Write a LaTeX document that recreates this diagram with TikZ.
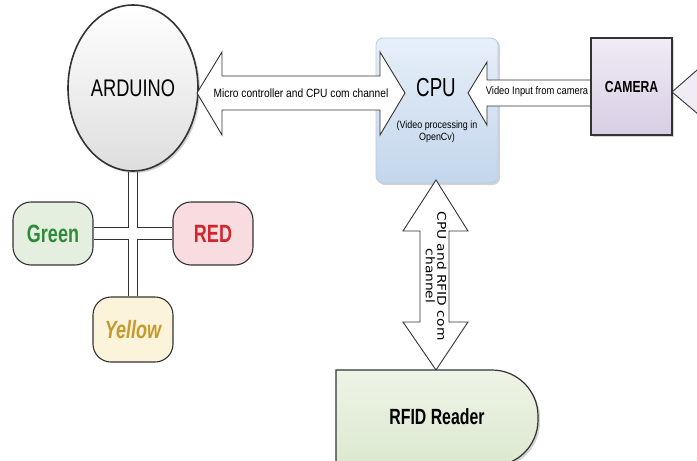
\documentclass[tikz,border=0pt]{standalone}
\usepackage{fontspec}
\setmainfont{Liberation Sans}
\newfontfamily\nA{Liberation Sans}[FakeStretch=0.85]
\newfontfamily\nB{Liberation Sans}[FakeStretch=0.72]
\newfontfamily\nC{Liberation Sans}[FakeStretch=0.76]
\newfontfamily\dv{DejaVu Sans}[FakeStretch=1.15]
\usetikzlibrary{shapes.geometric,shadows}
\definecolor{cputop}{HTML}{E7EFF9}
\definecolor{cpubot}{HTML}{C3D6EB}
\definecolor{cpuline}{HTML}{B8CDE4}
\definecolor{camtop}{HTML}{F0EBF5}
\definecolor{cambot}{HTML}{D8CEE4}
\definecolor{grnfill}{HTML}{E4EFDF}
\definecolor{grntext}{HTML}{2F8A3A}
\definecolor{redfill}{HTML}{F8DCE0}
\definecolor{redtext}{HTML}{D0262E}
\definecolor{yelfill}{HTML}{FCF4DA}
\definecolor{yeltext}{HTML}{C49A2C}
\definecolor{rfidtop}{HTML}{EEF4E6}
\definecolor{rfidbot}{HTML}{DCE8CF}
\definecolor{edge}{HTML}{333333}
\pgfdeclarelayer{bg}
\pgfsetlayers{bg,main}
\begin{document}
\begin{tikzpicture}[x=1pt,y=-1pt,
  arw/.style={draw=edge, fill=white, line width=0.9pt, line join=miter},
  lamp/.style={rounded corners=18pt, draw=edge, line width=1.1pt, minimum width=80pt, minimum height=63pt, inner sep=0pt},
  shad/.style={drop shadow={shadow xshift=2pt, shadow yshift=-2pt, opacity=0.35}},
  lbl/.style={inner sep=0pt, align=center}
]
\useasboundingbox (0,0) rectangle (697,461);
\clip (0,0) rectangle (697,461);

% Arduino
\node[ellipse, draw=edge, line width=1.6pt, minimum width=130pt, minimum height=166pt,
      top color=white, bottom color=black!13, shad, lbl] (ard) at (133,88)
      {\nC\fontsize{24}{26}\selectfont ARDUINO};

% lamps
\node[lamp, fill=grnfill] (grn) at (53,233.5) {\nB\bfseries\fontsize{25}{27}\selectfont\color{grntext}Green};
\node[lamp, fill=redfill] (red) at (213,233.5) {\nB\bfseries\fontsize{25}{27}\selectfont\color{redtext}RED};
\node[lamp, fill=yelfill, minimum height=65pt] (yel) at (133,329.5) {\nB\bfseries\itshape\fontsize{25}{27}\selectfont\color{yeltext}Yellow};

\begin{pgfonlayer}{bg}
\draw[line width=9.5pt, edge] (ard.south) -- (yel.north);
\draw[line width=13.5pt, edge] (grn.east) -- (red.west);
\draw[line width=7.5pt, white] (ard.south) -- (yel.north);
\draw[line width=11.5pt, white] (grn.east) -- (red.west);
\end{pgfonlayer}

% CPU
\node[rounded corners=7pt, draw=cpuline, line width=0.8pt, top color=cputop, bottom color=cpubot,
      minimum width=122pt, minimum height=145pt, shad] (cpu) at (437,110.5) {};

% Arduino <-> CPU arrow
\draw[arw] (197,93) -- (222,52) -- (222,76) -- (380,76) -- (380,52) -- (405,93)
  -- (380,135) -- (380,110) -- (222,110) -- (222,135) -- cycle;
\node[lbl] (lab1) at (301,93) {\nA\fontsize{12}{14}\selectfont Micro controller and CPU com channel};

% Camera -> CPU arrow
\draw[arw] (468,93) -- (487,62) -- (487,80) -- (592,80) -- (592,106) -- (487,106) -- (487,125) -- cycle;
\node[lbl] (lab2) at (537,92) {\nA\fontsize{11}{13}\selectfont Video Input from camera};

% CPU <-> RFID arrow
\draw[arw] (436,180) -- (468,231) -- (449,231) -- (449,322) -- (468,322) -- (436,370)
  -- (403,322) -- (420,322) -- (420,231) -- (403,231) -- cycle;
\node[lbl, rotate=-90, font={\dv\fontsize{12}{11.5}\selectfont}] (lab3) at (436,276) {CPU and RFID com\\channel};

% CPU text
\node[lbl] (cputxt) at (436,88) {\nB\fontsize{26}{28}\selectfont CPU};
\node[lbl, font={\nA\fontsize{10.5}{11.5}\selectfont}] (cpusub) at (437,132) {(Video processing in\\OpenCv)};

% Camera
\node[draw=edge, line width=1.3pt, top color=camtop, bottom color=cambot,
      minimum width=81pt, minimum height=97pt, shad, lbl] (cam) at (631.5,86.5)
      {\nC\bfseries\fontsize{16}{18}\selectfont CAMERA};

% arrow leaving camera to the right
\draw[arw, fill=camtop] (705,63) -- (672,92) -- (705,120);

% RFID reader
\draw[draw=edge, line width=1.2pt, top color=rfidtop, bottom color=rfidbot, shad]
  (336,466) -- (336,370) [rounded corners=46pt] -- (538,370) -- (538,466) [sharp corners] -- cycle;
\node[lbl] (rfid) at (437,417) {\nB\bfseries\fontsize{22}{24}\selectfont RFID Reader};
\end{tikzpicture}
\end{document}
